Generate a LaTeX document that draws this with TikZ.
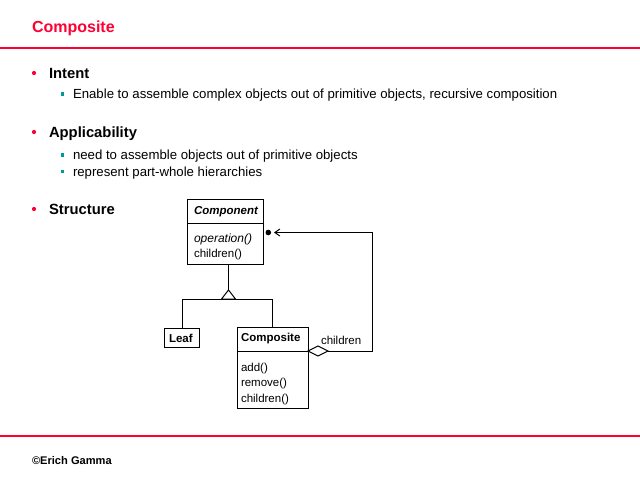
\documentclass[tikz,border=0pt]{standalone}
\usepackage{fontspec}
\setmainfont{Liberation Sans}
\usetikzlibrary{arrows.meta}
\definecolor{slidered}{HTML}{FF0033}
\definecolor{bulletteal}{HTML}{009999}
\begin{document}
\begin{tikzpicture}[x=1pt,y=-1pt,
  txt/.style={anchor=base west,inner sep=0pt,outer sep=0pt},
  title/.style={txt,font=\fontsize{16}{18}\selectfont\bfseries,text=slidered},
  head/.style={txt,font=\fontsize{14.8}{17}\selectfont\bfseries},
  body/.style={txt,font=\fontsize{13.2}{15}\selectfont},
  foot/.style={txt,font=\fontsize{11.1}{13}\selectfont\bfseries},
  uml/.style={txt,font=\fontsize{11.5}{13}\selectfont},
  umlb/.style={uml,font=\fontsize{11.5}{13}\selectfont\bfseries},
  umlbox/.style={draw,line width=1pt,rectangle,inner sep=0pt,outer sep=0pt},
  conn/.style={line width=1pt},
  rbullet/.style={circle,fill=slidered,inner sep=0pt,minimum size=4.2pt},
  tbullet/.style={rectangle,fill=bulletteal,inner sep=0pt,minimum size=3.4pt},
  rule/.style={draw=slidered,line width=1.3pt}
]
\useasboundingbox (0,0) rectangle (640,480);
\fill[white] (0,0) rectangle (640,480);

% title and rules
\node[title] (ttl) at (32,32.5) {Composite};
\coordinate (r1a) at (0,48); \coordinate (r1b) at (640,48);
\draw[rule] (r1a) -- (r1b);
\coordinate (r2a) at (0,436); \coordinate (r2b) at (640,436);
\draw[rule] (r2a) -- (r2b);
\node[foot] (ft) at (32,464.5) {©Erich Gamma};

% bullets
\node[rbullet] (b1) at (34,73) {};
\node[head] (h1) at (49,78) {Intent};
\node[tbullet] (s1) at (62.3,94) {};
\node[body] (t1) at (73,98.5) {Enable to assemble complex objects out of primitive objects, recursive composition};

\node[rbullet] (b2) at (34,132) {};
\node[head] (h2) at (49,137) {Applicability};
\node[tbullet] (s2) at (62.3,155) {};
\node[body] (t2) at (73,159.5) {need to assemble objects out of primitive objects};
\node[tbullet] (s3) at (62.3,171.5) {};
\node[body] (t3) at (73,176) {represent part-whole hierarchies};

\node[rbullet] (b3) at (34,209) {};
\node[head] (h3) at (49,214) {Structure};

% Component class
\node[umlbox,minimum width=76pt,minimum height=65pt] (comp) at (225,231.5) {};
\coordinate (cs1) at (187,223); \coordinate (cs2) at (263,223);
\draw[conn] (cs1) -- (cs2);
\node[uml,font=\fontsize{11.5}{13}\selectfont\bfseries\itshape] (compn) at (194,214) {Component};
\node[uml,font=\fontsize{12}{13}\selectfont\itshape] (compo) at (194,242) {operation()};
\node[uml] (compc) at (194,257) {children()};

% Leaf class
\node[umlbox,minimum width=35pt,minimum height=19pt] (leaf) at (181.5,337.5) {};
\node[umlb] (leafn) at (169,342) {Leaf};

% Composite class
\node[umlbox,minimum width=71pt,minimum height=81pt] (cmp) at (272.5,367.5) {};
\coordinate (ms1) at (237,351); \coordinate (ms2) at (308,351);
\draw[conn] (ms1) -- (ms2);
\node[umlb] (cmpn) at (241,341) {Composite};
\node[uml] (cmpa) at (241,371.5) {add()};
\node[uml] (cmpr) at (241,386.5) {remove()};
\node[uml] (cmpc) at (241,402) {children()};

% generalization
\coordinate (gtop) at (228.5,264);
\coordinate (apex) at (228.5,290);
\coordinate (tbl) at (221.5,299);
\coordinate (tbr) at (235.5,299);
\coordinate (hl) at (182,299);
\coordinate (hr) at (272.5,299);
\draw[conn] (gtop) -- (apex);
\draw[conn,line join=miter] (apex) -- (tbl) -- (tbr) -- cycle;
\draw[conn] (hl) -- (hr);
\draw[conn] (hl) -- (leaf.north -| hl);
\draw[conn] (hr) -- (cmp.north);

% aggregation
\coordinate (dl) at (308,351);
\coordinate (dt) at (318,346);
\coordinate (dr) at (328,351);
\coordinate (db) at (318,356);
\draw[conn,fill=white] (dl) -- (dt) -- (dr) -- (db) -- cycle;
\coordinate (ac1) at (372,351);
\coordinate (ac2) at (372,232.5);
\coordinate (atip) at (274,232.5);
\draw[conn,-{Straight Barb[length=5pt,width=7pt,line width=1pt]}] (dr) -- (ac1) -- (ac2) -- (atip);
\node[circle,fill=black,inner sep=0pt,minimum size=5.6pt] (dot) at (268.3,232.5) {};
\node[uml] (chl) at (321,344) {children};
\end{tikzpicture}
\end{document}
